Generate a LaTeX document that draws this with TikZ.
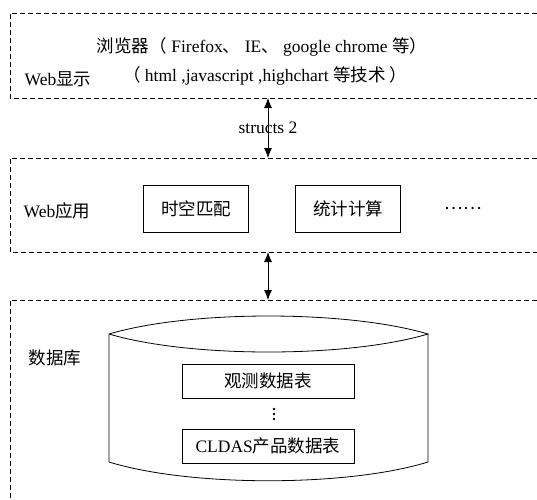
\documentclass[tikz,border=0pt]{standalone}
\usepackage{fontspec}
\setmainfont{Liberation Serif}
\newfontfamily\cjk{Noto Sans CJK SC}
\usepackage{tikz}
\usetikzlibrary{arrows.meta, positioning}

\tikzset{
	layer/.style = {dashed, dash pattern=on 5pt off 3pt, line width=0.7pt},
	funcbox/.style = {draw, line width=0.8pt, minimum width=105pt, minimum height=47pt, inner sep=2pt},
	tablebox/.style = {draw, line width=0.8pt, minimum width=172pt, minimum height=34pt, inner sep=2pt},
	biarrow/.style = {{Latex[length=10pt,width=8pt]}-{Latex[length=10pt,width=8pt]}, line width=0.8pt}
}

\begin{document}
\begin{tikzpicture}[x=1pt, y=-1pt, font=\fontsize{17.5}{20}\selectfont]
		\useasboundingbox (0,0) rectangle (537,499);
		\fill[white] (0,0) rectangle (537,499);

		% three layers, cut off at the right and bottom
		\draw[layer] (537,13) -- (10,13) -- (10,98) -- (537,98);
		\draw[layer] (537,158) -- (10,158) -- (10,252) -- (537,252);
		\draw[layer] (537,300) -- (10,300) -- (10,499);

		\coordinate (showbot) at (268,98);
		\coordinate (apptop) at (268,158);
		\coordinate (appbot) at (268,252);
		\coordinate (dbtop) at (268,300);

		% web display
		\draw (262,47) node (browser) {{\cjk 浏览器（} Firefox{\cjk 、} IE{\cjk 、} google chrome {\cjk 等）}}
		(265,76) node (tech) {{\cjk （} html ,javascript ,highchart {\cjk 等技术 ）}}
		(58,79) node (webshow) {Web{\cjk 显示}};

		% web application
		\draw (57,211) node (webapp) {Web{\cjk 应用}}
		(196,209) node[funcbox] (match) {\cjk 时空匹配}
		(348,209) node[funcbox] (stat) {\cjk 统计计算}
		(463,209) node (more) {\cjk ……};

		% database
		\draw[line width=0.8pt] (109,334) .. controls (190,310) and (347,310) .. (428,334)
			.. controls (347,358) and (190,358) .. (109,334) -- (109,462)
			.. controls (190,487) and (347,487) .. (428,462) -- (428,334);
		\draw (55,358) node (dblabel) {\cjk 数据库}
		(268,381) node[tablebox] (obs) {\cjk 观测数据表}
		(268,446) node[tablebox] (cldas) {CLDAS{\cjk 产品数据表}};
		\foreach \y in {409,414,419}
			\fill (274,\y) circle (1.3pt);

		\draw[biarrow] (showbot) -- (apptop) node[midway] (structs) {structs 2};
		\draw[biarrow] (appbot) -- (dbtop);
	\end{tikzpicture}
\end{document}
